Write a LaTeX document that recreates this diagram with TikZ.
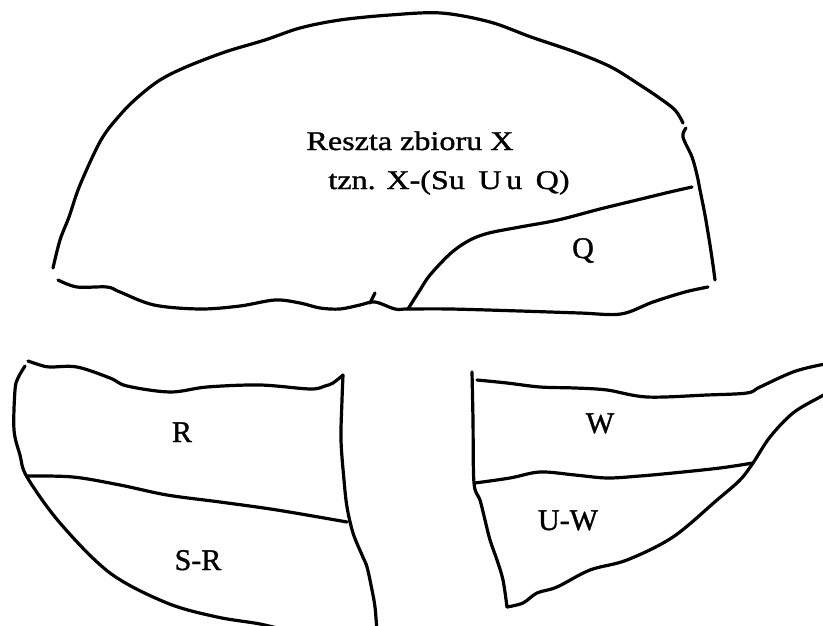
\documentclass[tikz,border=0pt]{standalone}
\usepackage{fontspec}
\newfontfamily\mainlabfont{Liberation Serif}[FakeStretch=1.19,FakeBold=1.2]
\newfontfamily\labfont{Liberation Serif}[FakeBold=1.2]
\tikzset{
  edge/.style={line width=3.2pt, line cap=round, line join=round, smooth, tension=0.55},
  mainlab/.style={font=\mainlabfont\fontsize{27}{30}\selectfont, anchor=base, inner sep=0pt},
  lab/.style={font=\labfont\fontsize{30}{34}\selectfont, anchor=base, inner sep=0pt}
}
\begin{document}
\begin{tikzpicture}[x=1pt,y=-1pt]
\useasboundingbox[fill=white] (0,0) rectangle (823,626);
% upper region (dome)
\draw[edge] plot coordinates {(53,268) (60,240) (69,217) (80,185) (101,140) (120,115) (138,97) (160,80) (186,67) (225,52) (265,40) (300,28) (340,20) (390,15) (441,13) (490,22) (531,37) (575,52) (611,67) (640,85) (658,97) (675,110) (683,123)};
\draw[edge] plot coordinates {(686,128) (683,137) (692,157) (697,175) (700,190) (705,215) (710,245) (713,265) (715,280)};
\draw[edge] plot coordinates {(58,280) (77,287) (107,287) (120,292) (154,305) (200,309) (240,306) (275,300) (300,303) (320,308) (340,309) (360,305) (375,302) (395,309) (408,309) (450,309) (520,311) (580,313) (621,314) (653,302) (685,292) (708,287)};
\draw[edge] plot coordinates {(370,303) (375,293)};
\draw[edge] plot coordinates {(408,309) (420,290) (430,275) (451,253) (470,240) (489,233) (520,227) (558,220) (600,209) (637,200) (670,192) (692,187)};
% lower left region
\draw[edge] plot coordinates {(25,366) (18,378) (15,390) (14,430) (20,455) (27,477) (60,523) (110,573) (167,603) (217,617) (260,624) (292,632)};
\draw[edge] plot coordinates {(28,361) (40,365) (50,367) (77,367) (110,378) (127,386) (170,392) (207,387) (260,385) (310,389) (325,386) (333,383) (343,375)};
\draw[edge] plot coordinates {(343,375) (342,400) (341,440) (344,480) (347,507) (353,533) (362,555) (367,567) (372,590) (375,607) (377,632)};
\draw[edge] plot coordinates {(27,476) (73,477) (120,485) (167,495) (220,502) (277,510) (347,522)};
% lower right region
\draw[edge] plot coordinates {(472,372) (473,420) (474,483) (480,500) (485,520) (490,540) (497,560) (503,580) (507,607)};
\draw[edge] plot coordinates {(507,607) (523,603) (537,593) (557,587) (590,570) (627,560) (673,537) (717,500) (740,480) (753,463) (770,437) (793,413) (820,397) (830,392)};
\draw[edge] plot coordinates {(477,380) (507,383) (540,387) (575,388) (607,390) (647,397) (707,395) (747,393) (760,387) (793,372) (820,365) (830,364)};
\draw[edge] plot coordinates {(475,483) (510,478) (540,472) (575,475) (607,478) (640,476) (673,473) (720,468) (753,463)};
% labels
\node[mainlab] (rest) at (410,150) {Reszta zbioru X};
\node[mainlab] (restdef) at (449,189) {tzn. X-(Su\enspace U\,u\enspace Q)};
\node[lab] (q) at (583,258) {Q};
\node[lab] (r) at (182,442) {R};
\node[lab] (sr) at (198,570) {S-R};
\node[lab] (w) at (600,433) {W};
\node[lab] (uw) at (568,530) {U-W};
\end{tikzpicture}
\end{document}
